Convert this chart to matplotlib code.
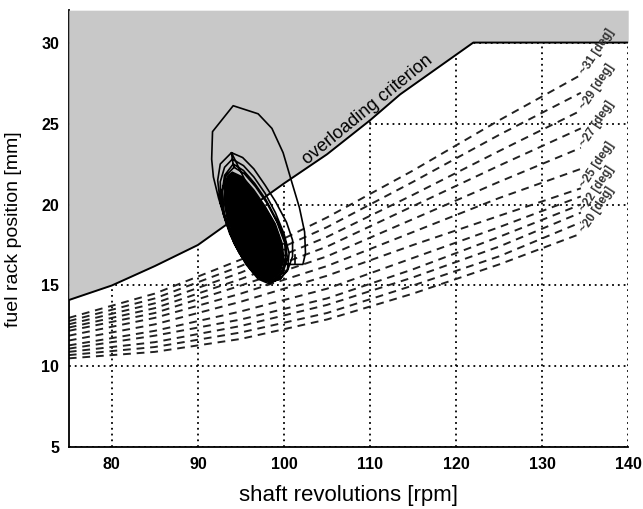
import numpy as np
import matplotlib.pyplot as plt

plt.rcParams['font.family'] = ['Liberation Sans', 'DejaVu Sans']

# overloading criterion (upper limit of fuel rack)
limit_rpm = [75, 80, 85, 90, 95, 100, 105, 110, 113.5, 122, 140]
limit_mm = [14.1, 15.0, 16.2, 17.5, 19.4, 21.3, 23.1, 25.2, 26.8, 30.0, 30.0]

# propeller curves for different pitch angles
curve_rpm = [75, 85, 95, 105, 115, 125, 134.5]
curve_mm = {
    31: [13.0, 14.5, 16.6, 19.2, 22.1, 25.2, 28.0],
    30: [12.8, 14.2, 16.2, 18.6, 21.4, 24.3, 26.9],
    29: [12.6, 13.9, 15.8, 18.0, 20.6, 23.3, 25.8],
    28: [12.4, 13.6, 15.4, 17.4, 19.9, 22.4, 24.7],
    27: [12.2, 13.3, 15.0, 16.8, 19.1, 21.4, 23.5],
    26: [11.9, 13.0, 14.5, 16.2, 18.3, 20.4, 22.2],
    25: [11.6, 12.6, 14.0, 15.6, 17.5, 19.3, 21.0],
    24: [11.3, 12.2, 13.4, 14.8, 16.7, 18.6, 20.5],
    23: [11.1, 11.9, 12.9, 14.2, 16.0, 18.0, 20.0],
    22: [10.9, 11.5, 12.5, 13.8, 15.5, 17.4, 19.5],
    21: [10.7, 11.2, 12.1, 13.3, 15.0, 16.8, 18.9],
    20: [10.5, 10.9, 11.7, 12.9, 14.5, 16.3, 18.2],
}
labeled = [31, 29, 27, 25, 22, 20]

# operating point trajectory (outer transient + loops)
traj_rpm = [100.0, 102.2, 102.5, 102.4, 101.8, 100.9, 99.9, 98.6, 97.0, 94.1, 91.7, 91.6, 91.8,
            92.4, 93.2, 94.2, 95.6, 97.0, 98.3, 99.4, 100.2,
            93.9, 95.2, 96.5, 97.8, 99.0, 100.3, 101.0, 101.0, 100.4, 99.5, 98.4, 97.2, 96.0, 94.8,
            93.5, 92.6, 92.3, 92.6, 93.9,
            94.0, 95.3, 96.5, 97.8, 99.0, 100.0, 100.6, 100.4, 99.6, 98.4, 97.1, 95.8, 94.6, 93.5,
            92.7, 92.6, 93.1, 94.0,
            94.1, 95.3, 96.6, 97.9, 99.1, 100.1, 100.4, 99.9, 98.9, 97.7, 96.4, 95.1, 94.0, 93.1,
            92.8, 93.1, 94.1,
            94.2, 95.4, 96.7, 98.0, 99.2, 100.1, 100.2, 99.6, 98.6, 97.4, 96.1, 94.8, 93.7, 92.9,
            92.8, 93.3, 94.2]
traj_mm = [16.3, 16.3, 17.0, 18.3, 19.8, 21.4, 23.2, 24.7, 25.6, 26.1, 24.5, 22.8, 21.7,
           20.4, 19.0, 17.6, 16.3, 15.4, 15.1, 15.4, 16.4,
           23.2, 22.9, 22.2, 21.2, 20.2, 18.9, 17.8, 16.8, 15.9, 15.4, 15.2, 15.5, 16.3, 17.4,
           18.7, 20.1, 21.5, 22.5, 23.2,
           22.8, 22.4, 21.7, 20.7, 19.5, 18.2, 17.0, 16.0, 15.4, 15.2, 15.5, 16.3, 17.4, 18.7,
           20.0, 21.4, 22.3, 22.8,
           22.5, 22.1, 21.3, 20.3, 19.1, 17.9, 16.7, 15.8, 15.3, 15.3, 15.8, 16.8, 18.0, 19.3,
           20.7, 21.8, 22.5,
           22.3, 21.9, 21.1, 20.1, 18.9, 17.6, 16.5, 15.7, 15.3, 15.4, 16.0, 17.0, 18.2, 19.5,
           20.8, 21.8, 22.3]

# dense core of the trajectory
core_rpm = [94.0, 95.2, 96.5, 97.8, 99.0, 99.8, 100.0, 99.5, 98.5, 97.5, 96.5, 95.3, 94.2,
            93.4, 93.0, 93.1, 93.5]
core_mm = [22.0, 21.7, 20.9, 19.9, 18.8, 17.6, 16.6, 15.7, 15.3, 15.4, 15.9, 16.8, 17.9,
           19.1, 20.3, 21.3, 21.8]

fig = plt.figure(figsize=(6.43, 5.09), dpi=100)
ax = fig.add_axes([0.107, 0.121, 0.870, 0.859])

ax.set_xlim(75, 140)
ax.set_ylim(5, 32)
ax.set_xticks([80, 90, 100, 110, 120, 130, 140])
ax.set_yticks([5, 10, 15, 20, 25, 30])
ax.tick_params(length=0, pad=7, labelsize=11.5)
for lab in ax.get_xticklabels() + ax.get_yticklabels():
    lab.set_fontweight('bold')

ax.set_axisbelow(True)
ax.grid(True, color='black', linestyle=(0, (1, 2.2)), linewidth=1.3)
ax.spines['top'].set_visible(False)
ax.spines['right'].set_visible(False)
ax.spines['left'].set_linewidth(1.3)
ax.spines['bottom'].set_linewidth(1.3)

for deg, vals in curve_mm.items():
    ax.plot(curve_rpm, vals, color='#222222', linestyle=(0, (4, 3)), linewidth=1.4, zorder=1.5)
    if deg in labeled:
        ax.text(curve_rpm[-1] + 0.2, vals[-1] + 0.1, '~%d [deg]' % deg, rotation=57,
                rotation_mode='anchor', ha='left', va='center', fontsize=8.5,
                fontweight='bold', color='#333333', zorder=6)

ax.fill_between(limit_rpm, limit_mm, 32, color='#c8c8c8', linewidth=0, zorder=2.7)
ax.plot(limit_rpm, limit_mm, color='black', linewidth=1.4, zorder=3)

# text along the limit line
p1 = ax.transData.transform((105, 23.1))
p2 = ax.transData.transform((113.5, 26.8))
ang = np.degrees(np.arctan2(p2[1] - p1[1], p2[0] - p1[0]))
ax.text(110.3, 25.45, 'overloading criterion', rotation=ang, rotation_mode='anchor',
        ha='center', va='bottom', fontsize=13, zorder=6)

ax.plot(traj_rpm, traj_mm, color='black', linewidth=1.2, zorder=4)
ax.fill(core_rpm, core_mm, color='black', zorder=4.5)
ax.plot([101.3, 101.3], [16.3, 16.9], color='black', linewidth=1.2, zorder=4)

ax.set_xlabel('shaft revolutions [rpm]', fontsize=16, labelpad=9)
ax.set_ylabel('fuel rack position [mm]', fontsize=14, labelpad=14)

fig.savefig('out.png', dpi=100)
